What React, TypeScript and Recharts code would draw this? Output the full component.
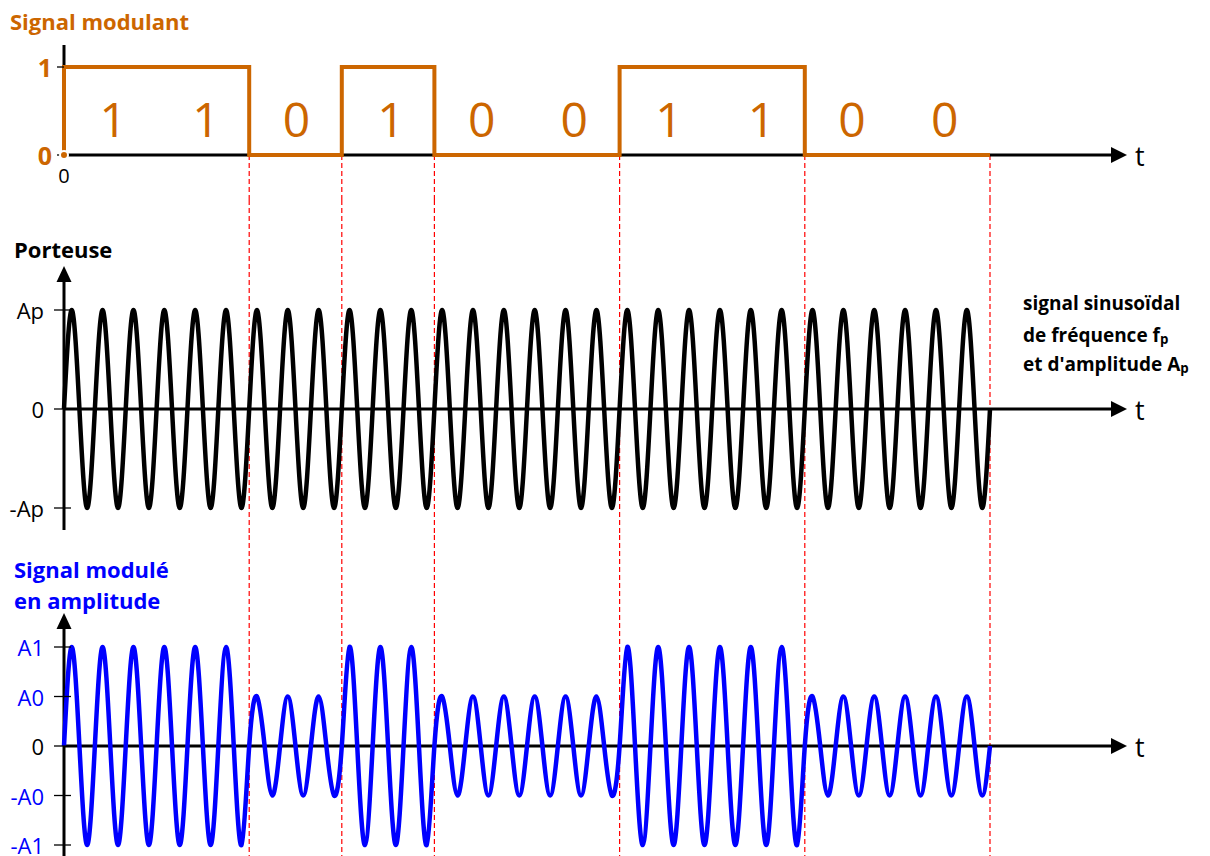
import React from "react";
import { LineChart, Line, XAxis, YAxis, ReferenceLine, ReferenceDot } from "recharts";

// message bits of the modulating signal
const BITS = [1, 1, 0, 1, 0, 0, 1, 1, 0, 0];
// carrier periods per bit
const CYCLES_PER_BIT = 3;
// one carrier period read at quarter steps: zero, crest, zero, trough
const QUARTER_SHAPE = [0, 1, 0, -1];
// carrier amplitude Ap
const CARRIER_LEVEL = 1;
// modulated amplitude for bit 0 and bit 1 (A0 = A1 / 2)
const AM_LEVELS = [0.5, 1];

const ORANGE = "#CC6600";
const BLUE = "#0000FF";
const RED = "#FF0000";

type Tick = { value: number; label: string; color: string; bold?: boolean };

const MOD_TICKS: Tick[] = [
  { value: 1, label: "1", color: ORANGE, bold: true },
  { value: 0, label: "0", color: ORANGE, bold: true },
];
const CARRIER_TICKS: Tick[] = [
  { value: 1, label: "Ap", color: "#000" },
  { value: 0, label: "0", color: "#000" },
  { value: -1, label: "-Ap", color: "#000" },
];
const AM_TICKS: Tick[] = [
  { value: 1, label: "A1", color: BLUE },
  { value: 0.5, label: "A0", color: BLUE },
  { value: 0, label: "0", color: "#000" },
  { value: -0.5, label: "-A0", color: BLUE },
  { value: -1, label: "-A1", color: BLUE },
];

const squareData = [
  { t: 0, v: 0 },
  ...BITS.map((b, i) => ({ t: i, v: b })),
  { t: BITS.length, v: BITS[BITS.length - 1] },
];

function wave(levels: number[]) {
  const pts: { t: number; v: number }[] = [];
  levels.forEach((amp, i) => {
    for (let c = 0; c < CYCLES_PER_BIT; c++) {
      QUARTER_SHAPE.forEach((s, k) => {
        pts.push({ t: i + (c + k / 4) / CYCLES_PER_BIT, v: amp * s });
      });
    }
  });
  pts.push({ t: levels.length, v: 0 });
  return pts;
}

const carrierData = wave(BITS.map(() => CARRIER_LEVEL));
const amData = wave(BITS.map((b) => AM_LEVELS[b]));

// bit indices where the level changes, plus the end of the message
const boundaries = [
  ...BITS.map((b, i) => (i > 0 && b !== BITS[i - 1] ? i : -1)).filter((i) => i > 0),
  BITS.length,
];

// layout (page pixels)
const W = 1210;
const X0 = 64;
const BIT_W = 92.6;
const xDomain: [number, number] = [-X0 / BIT_W, (W - X0) / BIT_W];
const xArrowTip = (1127 - X0) / BIT_W;

type Panel = {
  top: number;
  height: number;
  zeroY: number;
  unit: number;
  axisTop: number;
  axisBottom: number;
  arrow: boolean;
};

const P1: Panel = { top: 0, height: 200, zeroY: 155, unit: 88, axisTop: 45, axisBottom: 155, arrow: false };
const P2: Panel = { top: 200, height: 335, zeroY: 409, unit: 99, axisTop: 266, axisBottom: 530, arrow: true };
const P3: Panel = { top: 535, height: 321, zeroY: 746, unit: 99, axisTop: 613, axisBottom: 856, arrow: true };

const val = (p: Panel, px: number) => (p.zeroY - px) / p.unit;
const yDomain = (p: Panel): [number, number] => [val(p, p.top + p.height), val(p, p.top)];

const rightArrow = (props: any) => (
  <path d={`M${props.cx},${props.cy} L${props.cx - 16},${props.cy - 8} L${props.cx - 16},${props.cy + 8} Z`} fill="#000" />
);
const upArrow = (props: any) => (
  <path d={`M${props.cx},${props.cy} L${props.cx - 7.5},${props.cy + 16} L${props.cx + 7.5},${props.cy + 16} Z`} fill="#000" />
);

function tickShape(tick: Tick, short: boolean) {
  return (props: any) => (
    <g>
      <line
        x1={props.cx - (short ? 7 : 10)}
        x2={props.cx + (short ? 0 : 7)}
        y1={props.cy}
        y2={props.cy}
        stroke="#000"
        strokeWidth={1.3}
      />
      <text
        x={props.cx - (short ? 12 : 20)}
        y={props.cy}
        textAnchor="end"
        dominantBaseline="central"
        fill={tick.color}
        fontSize={tick.bold ? 25 : 22}
        fontWeight={tick.bold ? 700 : 400}
        fontFamily="Open Sans"
      >
        {tick.label}
      </text>
    </g>
  );
}

const tLabel = (props: any) => (
  <text x={props.cx + 8} y={props.cy} dominantBaseline="central" fontSize={27} fontFamily="Open Sans" fill="#000">
    t
  </text>
);

function AxisParts(p: Panel, ticks: Tick[], short: boolean) {
  const arrowLen = 16 / BIT_W;
  return [
    <ReferenceLine
      key="xaxis"
      segment={[{ x: 0, y: 0 }, { x: xArrowTip - arrowLen, y: 0 }]}
      stroke="#000"
      strokeWidth={3}
      ifOverflow="visible"
    />,
    <ReferenceDot key="xarrow" x={xArrowTip} y={0} ifOverflow="visible" shape={rightArrow} />,
    <ReferenceDot key="tlabel" x={xArrowTip} y={0} ifOverflow="visible" shape={tLabel} />,
    <ReferenceLine
      key="yaxis"
      segment={[
        { x: 0, y: val(p, p.axisBottom) },
        { x: 0, y: val(p, p.arrow ? p.axisTop + 14 : p.axisTop) },
      ]}
      stroke="#000"
      strokeWidth={3}
      ifOverflow="visible"
    />,
    p.arrow ? (
      <ReferenceDot key="yarrow" x={0} y={val(p, p.axisTop)} ifOverflow="visible" shape={upArrow} />
    ) : null,
    ...ticks.map((tk) => (
      <ReferenceDot key={"tick" + tk.label} x={0} y={tk.value} ifOverflow="visible" shape={tickShape(tk, short)} />
    )),
  ];
}

function redLines(p: Panel, fromZero: boolean) {
  return boundaries.map((b) => (
    <ReferenceLine
      key={"b" + b}
      segment={[{ x: b, y: fromZero ? 0 : yDomain(p)[1] }, { x: b, y: yDomain(p)[0] }]}
      stroke={RED}
      strokeWidth={1.2}
      strokeDasharray="5 3"
      ifOverflow="visible"
    />
  ));
}

const bitLabel = (bit: number) => (props: any) => (
  <text
    x={props.cx + (bit === 1 ? 3 : 1)}
    y={props.cy}
    textAnchor="middle"
    dominantBaseline="central"
    fontSize={48}
    fontFamily="Open Sans"
    fill={ORANGE}
  >
    {bit}
  </text>
);

function PanelChart({ p, data, color, type, width, children }: any) {
  return (
    <div style={{ position: "absolute", left: 0, top: p.top }}>
      <LineChart width={W} height={p.height} data={data} margin={{ top: 0, right: 0, bottom: 0, left: 0 }}>
        <XAxis type="number" dataKey="t" domain={xDomain} allowDataOverflow hide />
        <YAxis type="number" domain={yDomain(p)} allowDataOverflow hide />
        {children}
        <Line
          type={type}
          dataKey="v"
          stroke={color}
          strokeWidth={width}
          dot={false}
          isAnimationActive={false}
          strokeLinejoin="miter"
        />
      </LineChart>
    </div>
  );
}

const label = (text: React.ReactNode, left: number, top: number, color: string, size: number) => (
  <div
    style={{
      position: "absolute",
      left,
      top,
      color,
      fontSize: size,
      fontWeight: 700,
      lineHeight: 1,
      whiteSpace: "nowrap",
    }}
  >
    {text}
  </div>
);

export default function App() {
  const sub = (s: string) => <span style={{ fontSize: "0.7em", verticalAlign: "-0.15em" }}>{s}</span>;
  return (
    <div
      style={{
        position: "absolute",
        left: 0,
        top: 0,
        width: W,
        height: 856,
        background: "#fff",
        fontFamily: "Open Sans",
        overflow: "hidden",
      }}
    >
      <PanelChart p={P1} data={squareData} color={ORANGE} type="stepAfter" width={4}>
        {redLines(P1, true)}
        {AxisParts(P1, MOD_TICKS, true)}
        {BITS.map((b, i) => (
          <ReferenceDot key={"bit" + i} x={i + 0.5} y={0.42} ifOverflow="visible" shape={bitLabel(b)} />
        ))}
        <ReferenceDot
          x={0}
          y={0}
          ifOverflow="visible"
          shape={(props: any) => (
            <text x={props.cx} y={props.cy + 20} textAnchor="middle" dominantBaseline="central" fontSize={20} fontFamily="Open Sans">
              0
            </text>
          )}
        />
      </PanelChart>
      <PanelChart p={P2} data={carrierData} color="#000" type="natural" width={4.5}>
        {redLines(P2, false)}
        {AxisParts(P2, CARRIER_TICKS, false)}
      </PanelChart>
      <PanelChart p={P3} data={amData} color={BLUE} type="natural" width={4.5}>
        {redLines(P3, false)}
        {AxisParts(P3, AM_TICKS, false)}
      </PanelChart>

      {label("Signal modulant", 10, 10, ORANGE, 22)}
      {label("Porteuse", 14, 238, "#000", 22)}
      {label("Signal modulé", 14, 558, BLUE, 22)}
      {label("en amplitude", 14, 589, BLUE, 22)}
      {label("signal sinusoïdal", 1023, 294, "#000", 19)}
      {label(<>de fréquence f{sub("p")}</>, 1023, 326, "#000", 19)}
      {label(<>et d'amplitude A{sub("p")}</>, 1023, 355, "#000", 19)}
    </div>
  );
}
